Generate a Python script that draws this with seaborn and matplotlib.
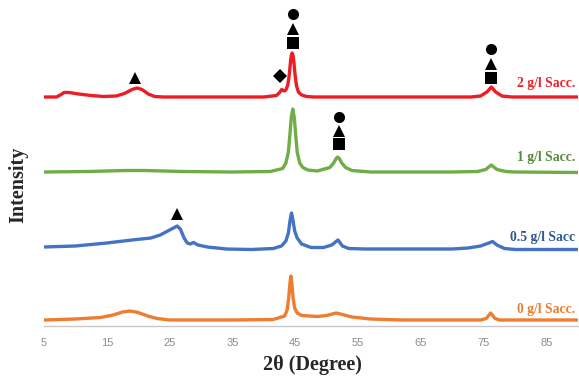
import numpy as np
import pandas as pd
import matplotlib
matplotlib.use("Agg")
import matplotlib.pyplot as plt
import seaborn as sns

# Stacked XRD patterns (2θ in degrees, intensity in a.u. with vertical offsets)
theta_2 = [5, 7.0, 7.6, 8.2, 9.0, 10.5, 12.5, 14.5, 16.5, 17.8, 19.0, 19.8, 20.6, 21.6, 22.6,
           24, 30, 40, 42.0, 42.5, 42.85, 43.2, 43.5, 43.8, 44.0, 44.2, 44.35, 44.5, 44.65,
           44.8, 45.0, 45.2, 45.5, 46.0, 46.8, 48, 60, 73, 74.5, 75.5, 76.2, 76.9, 77.9,
           79.5, 90]
int_2 = [229, 229, 231, 233.5, 233.5, 232, 230.5, 229.5, 230, 232.5, 236.5, 238, 236.5, 232, 229.5,
         229, 229, 229, 230.5, 233.5, 236.5, 235, 236, 241, 249, 262, 270, 273, 270,
         262, 249, 240, 234, 231, 229.5, 229, 229, 229, 230, 234, 239, 234, 230,
         229, 229]

theta_1 = [5, 12, 18, 21, 27, 35, 41, 43.0, 43.5, 43.9, 44.15, 44.35, 44.6, 44.85, 45.05,
           45.3, 45.7, 46.2, 47.0, 48.5, 50.5, 51.1, 51.5, 51.75, 52.0, 52.4, 53.0, 54.0,
           57, 70, 74, 75.3, 76.2, 77.1, 78.5, 80, 90]
int_1 = [154, 154.5, 155.5, 155.5, 154.5, 154, 154.5, 157.5, 163, 174, 192, 208, 217, 208, 192,
         174, 163, 158.5, 156, 155, 158.5, 163, 167.5, 169, 167.5, 163, 158.5, 155.5,
         154, 154, 154.5, 156.5, 161, 156.5, 154.5, 154, 153.5]

theta_05 = [5, 10, 15, 19, 22, 23.5, 25, 26.2, 26.7, 27.3, 27.8, 28.3, 28.8, 29.5, 31, 34, 38,
            41.5, 42.8, 43.5, 43.9, 44.15, 44.4, 44.65, 44.9, 45.3, 46, 47.5, 49.5, 50.8,
            51.8, 52.5, 53.5, 56, 70, 72.5, 74.5, 75.8, 76.4, 77.1, 78.3, 80, 90]
int_05 = [79, 80, 83, 86, 88, 91, 96, 100, 97, 88, 83, 82, 83.5, 81, 79, 77, 76.5,
          77.5, 80, 85, 93, 105, 113, 105, 95, 88, 82, 78.5, 78.5, 81,
          86, 80, 77.5, 77, 77, 78, 80, 83, 84.5, 81, 77.5, 76.5, 76.5]

theta_0 = [5, 10, 14, 16, 17.5, 18.7, 20, 21.5, 23, 25, 35, 41.5, 43.3, 43.7, 43.95, 44.15,
           44.3, 44.45, 44.65, 44.9, 45.3, 46.0, 48.5, 50, 51.5, 52.5, 54, 57, 62, 74.5,
           75.4, 76.1, 76.8, 77.5, 90]
int_0 = [6, 7, 8.5, 11, 14, 15, 13.5, 10, 7.5, 6, 6, 6.5, 10, 16, 28, 43,
         50, 43, 28, 18, 13, 10.5, 9.5, 10.5, 13, 11.5, 9, 7, 6, 6,
         7.5, 13, 7.5, 6, 6]

samples = ["2 g/l Sacc.", "1 g/l Sacc.", "0.5 g/l Sacc", "0 g/l Sacc."]
line_colors = ["#EE1C25", "#70AD47", "#4472C4", "#ED7D31"]
label_colors = ["#E8262B", "#5A8A3A", "#2F5A92", "#ED7D31"]
label_y = [243, 168, 89, 17]

x_ticks = [5, 15, 25, 35, 45, 55, 65, 75, 85]

# Phase markers (2θ, height)
square_x = [44.6, 76.2, 51.9]
square_y = [283, 248, 182]
triangle_x = [44.6, 76.2, 51.9, 19.5, 26.1]
triangle_y = [297, 262.5, 195, 248, 112]
circle_x = [44.6, 76.2, 51.9]
circle_y = [312, 277.5, 209]
diamond_x = [42.5]
diamond_y = [250]

frames = []
for name, t, v in zip(samples, [theta_2, theta_1, theta_05, theta_0],
                      [int_2, int_1, int_05, int_0]):
    frames.append(pd.DataFrame({"theta": t, "intensity": v, "sample": name}))
df = pd.concat(frames, ignore_index=True)

sns.set_theme(style="white")
plt.rcParams["font.family"] = ["Liberation Serif", "DejaVu Serif"]

fig = plt.figure(figsize=(5.79, 3.80), dpi=100)
ax = fig.add_axes([44 / 579, 54 / 380, 534 / 579, 326 / 380])

sns.lineplot(data=df, x="theta", y="intensity", hue="sample", hue_order=samples,
             palette=line_colors, sort=False, estimator=None, linewidth=2.4,
             legend=False, ax=ax, solid_joinstyle="round", solid_capstyle="round")

ax.plot(square_x, square_y, "s", color="black", ms=8.3, mew=0, ls="none")
ax.plot(triangle_x, triangle_y, "^", color="black", ms=9, mew=0, ls="none")
ax.plot(circle_x, circle_y, "o", color="black", ms=8, mew=0, ls="none")
ax.plot(diamond_x, diamond_y, "D", color="black", ms=7, mew=0, ls="none")

for name, c, yy in zip(samples, label_colors, label_y):
    ax.text(89.6, yy, name, color=c, fontsize=9.8, fontweight="bold", ha="right",
            va="center", clip_on=False)

ax.set_xlim(5, 90)
ax.set_ylim(0, 326)
ax.set_xticks(x_ticks)
ax.set_xticklabels([str(t) for t in x_ticks], fontfamily="Liberation Sans",
                   fontsize=8, color="#8C8C8C")
ax.tick_params(axis="x", length=0, pad=9)
ax.set_yticks([])
for side in ["top", "right", "left"]:
    ax.spines[side].set_visible(False)
ax.spines["bottom"].set_color("#C8C8C8")
ax.spines["bottom"].set_linewidth(1.0)
ax.set_xlabel("")
ax.set_ylabel("")

fig.text(312 / 579, 1 - 365 / 380, "2θ (Degree)", ha="center", va="center",
         fontsize=14.5, fontweight="bold")
fig.text(18 / 579, 1 - 185 / 380, "Intensity", ha="center", va="center",
         rotation=90, fontsize=14.5, fontweight="bold")

fig.savefig("out.png", dpi=100)
